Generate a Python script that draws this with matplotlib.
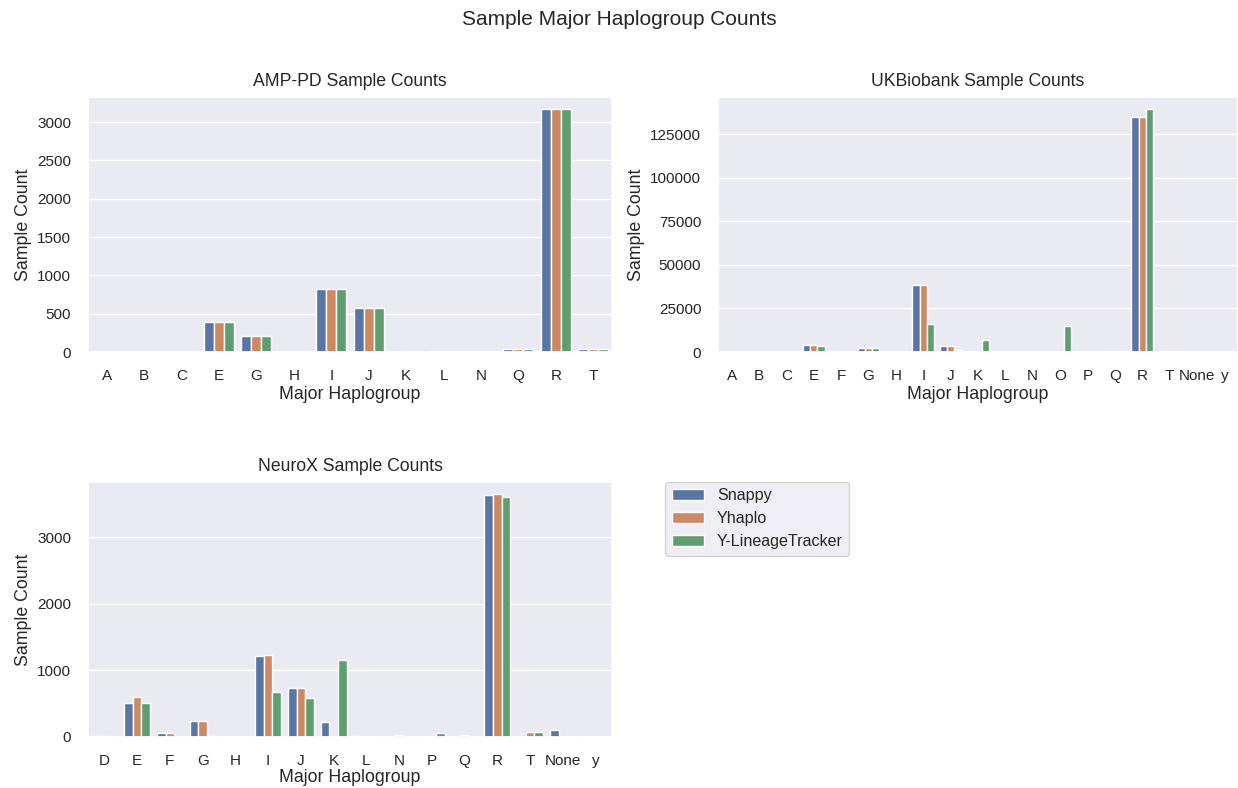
import pandas as pd
import seaborn as sns
from matplotlib import pyplot as plt
from matplotlib.ticker import MultipleLocator

tools = ['Snappy', 'Yhaplo', 'Y-LineageTracker']

# AMP-PD
amp_groups = ['A', 'B', 'C', 'E', 'G', 'H', 'I', 'J', 'K', 'L', 'N', 'Q', 'R', 'T']
amp_snappy = [2, 1, 1, 390, 215, 1, 820, 580, 3, 12, 10, 40, 3170, 40]
amp_yhaplo = [2, 1, 1, 390, 215, 1, 820, 580, 3, 12, 10, 40, 3170, 40]
amp_ylt = [2, 1, 1, 390, 215, 1, 820, 580, 3, 12, 10, 40, 3170, 40]

# UKBiobank
ukb_groups = ['A', 'B', 'C', 'E', 'F', 'G', 'H', 'I', 'J', 'K', 'L', 'N', 'O', 'P', 'Q', 'R', 'T', 'None', 'y']
ukb_snappy = [60, 50, 80, 4200, 60, 2500, 80, 38500, 3500, 300, 60, 50, 40, 30, 500, 135000, 500, 0, 0]
ukb_yhaplo = [60, 50, 80, 4100, 60, 2500, 80, 38500, 3300, 200, 60, 50, 40, 30, 500, 135000, 300, 0, 0]
ukb_ylt = [60, 50, 80, 3400, 50, 2500, 80, 16200, 1000, 7000, 60, 50, 14800, 30, 400, 139500, 300, 50, 50]

# NeuroX
nx_groups = ['D', 'E', 'F', 'G', 'H', 'I', 'J', 'K', 'L', 'N', 'P', 'Q', 'R', 'T', 'None', 'y']
nx_snappy = [10, 505, 60, 240, 0, 1213, 738, 223, 10, 0, 0, 0, 3630, 0, 100, 0]
nx_yhaplo = [10, 598, 60, 240, 0, 1237, 738, 0, 0, 30, 0, 30, 3650, 80, 0, 0]
nx_ylt = [0, 505, 0, 10, 0, 679, 579, 1154, 0, 0, 60, 0, 3610, 80, 0, 5]


def long_table(groups, a, b, c):
    rows = []
    for vals, tool in zip([a, b, c], tools):
        for g, v in zip(groups, vals):
            rows.append({'Major Haplogroup': g, 'Sample Count': v, 'Tool': tool})
    return pd.DataFrame(rows)


sns.set_theme()
plt.rcParams['font.family'] = ['Liberation Sans', 'DejaVu Sans']
plt.rcParams['xtick.major.pad'] = 6
plt.rcParams['ytick.major.pad'] = 6
fig, axes = plt.subplots(2, 2, figsize=(12.38, 7.88), dpi=100)

# axes boxes in figure fractions
axes[0, 0].set_position([88 / 1238, 1 - 352 / 788, 524 / 1238, 255 / 788])
axes[0, 1].set_position([718 / 1238, 1 - 352 / 788, 520 / 1238, 255 / 788])
axes[1, 0].set_position([88 / 1238, 1 - 737 / 788, 524 / 1238, 255 / 788])

panels = [
    (axes[0, 0], 'AMP-PD Sample Counts', amp_groups, amp_snappy, amp_yhaplo, amp_ylt, 500, 2.5),
    (axes[0, 1], 'UKBiobank Sample Counts', ukb_groups, ukb_snappy, ukb_yhaplo, ukb_ylt, 25000, 2.5),
    (axes[1, 0], 'NeuroX Sample Counts', nx_groups, nx_snappy, nx_yhaplo, nx_ylt, 1000, 1),
]
for ax, title, groups, a, b, c, step, lpad in panels:
    df = long_table(groups, a, b, c)
    sns.barplot(data=df, x='Major Haplogroup', y='Sample Count', hue='Tool',
                order=groups, hue_order=tools, ax=ax)
    ax.set_title(title, fontsize=12.7, pad=8)
    ax.set_xlabel('Major Haplogroup', fontsize=12.8, labelpad=lpad)
    ax.set_ylabel('Sample Count', fontsize=12.8)
    ax.yaxis.set_major_locator(MultipleLocator(step))
    handles, labels = ax.get_legend_handles_labels()
    ax.legend_.remove()

axes[1, 1].axis('off')
fig.legend(handles, labels, loc='upper left', bbox_to_anchor=(0.531, 0.399), fontsize=11.6)
fig.suptitle('Sample Major Haplogroup Counts', y=0.987, fontsize=15)

plt.savefig('out.png')
